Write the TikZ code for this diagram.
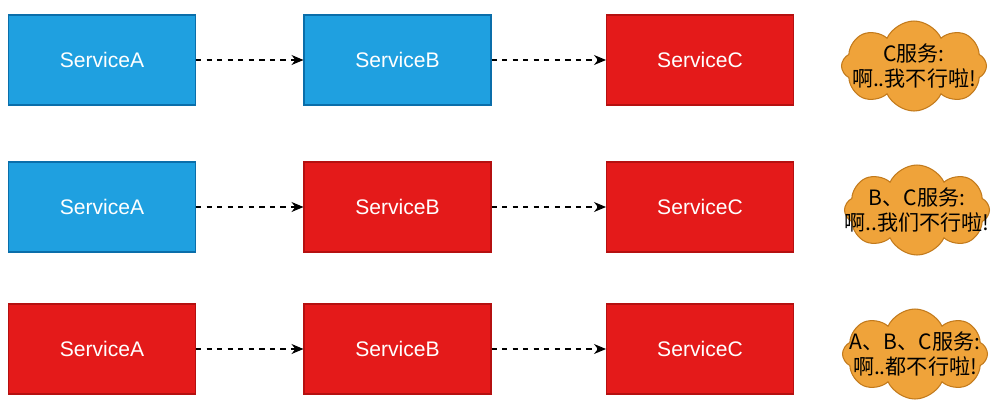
\documentclass[tikz,border=0pt]{standalone}
\usepackage{fontspec}
\setmainfont{Liberation Sans}
\newfontfamily\cjk{Noto Sans CJK SC}
\usepackage{tikz}
\usetikzlibrary{positioning,arrows.meta,shapes.symbols}
\usepackage{xcolor}
\definecolor{svcblue}{HTML}{1FA0E0}
\definecolor{svcblueline}{HTML}{0A6EAA}
\definecolor{svcred}{HTML}{E41A1A}
\definecolor{svcredline}{HTML}{B51010}
\definecolor{talkfill}{HTML}{EFA33A}
\definecolor{talkline}{HTML}{C27A1C}

\tikzset{
  svcbox/.style={rectangle,minimum width=3.74cm,minimum height=1.8cm,
    line width=0.6pt,text=white,font=\fontsize{12}{14}\selectfont},
  okbox/.style={svcbox,fill=svcblue,draw=svcblueline},
  downbox/.style={svcbox,fill=svcred,draw=svcredline},
  talk/.style={cloud,cloud puffs=8,cloud puff arc=130,cloud ignores aspect,fill=talkfill,draw=talkline,
    line width=0.6pt,minimum width=2.9cm,minimum height=1.8cm,inner sep=0pt},
  talktext/.style={align=center,font=\cjk\fontsize{12}{14}\selectfont},
  call/.style={dashed,line width=0.6pt,-{Stealth[length=2.4mm,width=2mm]}}
}

\begin{document}
\begin{tikzpicture}[x=0.02cm,y=-0.02cm]
\useasboundingbox (0,0) rectangle (1000,406);
% first row
\node[okbox] (a1) at (102,60) {ServiceA};
\node[okbox] (b1) at (397.5,60) {ServiceB};
\node[downbox] (c1) at (700,60) {ServiceC};
\node[talk] (t1) at (914,66) {};
\node[talktext] (s1) at (t1.center) {C服务:\\啊..我不行啦!};
\draw[call] (a1) -- (b1);
\draw[call] (b1) -- (c1);
% second row
\node[okbox] (a2) at (102,207) {ServiceA};
\node[downbox] (b2) at (397.5,207) {ServiceB};
\node[downbox] (c2) at (700,207) {ServiceC};
\node[talk] (t2) at (917,210) {};
\node[talktext] (s2) at (t2.center) {B、C服务:\\啊..我们不行啦!};
\draw[call] (a2) -- (b2);
\draw[call] (b2) -- (c2);
% third row
\node[downbox] (a3) at (102,349) {ServiceA};
\node[downbox] (b3) at (397.5,349) {ServiceB};
\node[downbox] (c3) at (700,349) {ServiceC};
\node[talk] (t3) at (915,354) {};
\node[talktext] (s3) at (t3.center) {A、B、C服务:\\啊..都不行啦!};
\draw[call] (a3) -- (b3);
\draw[call] (b3) -- (c3);
\end{tikzpicture}
\end{document}
